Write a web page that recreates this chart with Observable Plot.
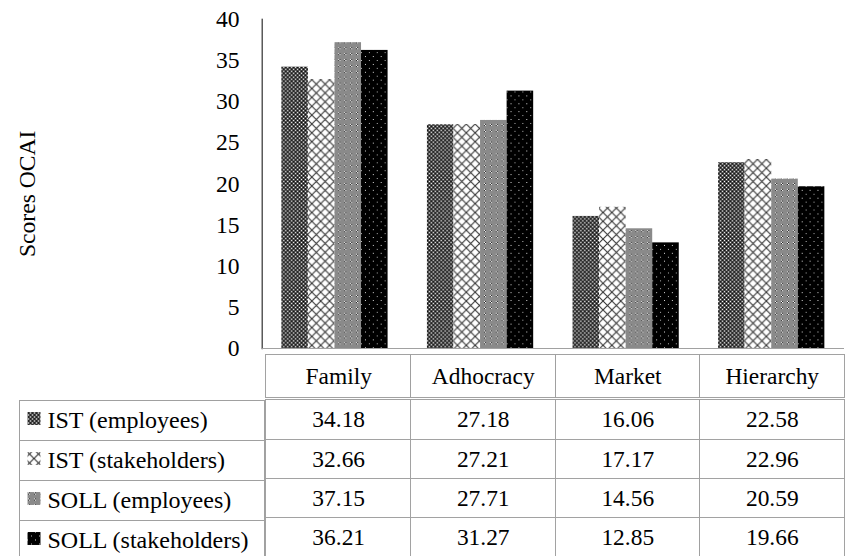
<!DOCTYPE html>
<html>
<head>
<meta charset="utf-8">
<script src="https://cdn.jsdelivr.net/npm/d3@7"></script>
<script src="https://cdn.jsdelivr.net/npm/@observablehq/plot@0.6"></script>
<style>
  html, body { margin: 0; padding: 0; background: #fff; overflow: hidden; }
  #wrap { position: relative; width: 846px; height: 556px; overflow: hidden; background: #fff; }
  .part { position: absolute; }
  .part svg { overflow: visible; display: block; }
  .part svg, .part svg text { font-family: "Liberation Serif", "Times New Roman", serif !important; }
</style>
</head>
<body>
<svg width="0" height="0" style="position:absolute">
  <defs>
    <pattern id="pIstEmp" patternUnits="userSpaceOnUse" width="4" height="4">
      <rect width="4" height="4" fill="#4a4a4a"/>
      <rect x="0" y="0" width="1" height="1" fill="#000"/>
      <rect x="2" y="2" width="1" height="1" fill="#000"/>
      <rect x="2" y="0" width="1" height="1" fill="#fff"/>
      <rect x="0" y="2" width="1" height="1" fill="#fff"/>
    </pattern>
    <pattern id="pIstStk" patternUnits="userSpaceOnUse" width="9" height="9">
      <rect width="9" height="9" fill="#fff"/>
      <path d="M0,0L9,9M9,0L0,9" stroke="#333" stroke-width="1.1" fill="none"/>
    </pattern>
    <pattern id="pSollEmp" patternUnits="userSpaceOnUse" width="6" height="6">
      <rect width="6" height="6" fill="#8a8a8a"/>
      <rect x="0" y="0" width="1" height="1" fill="#fff"/>
      <rect x="1" y="1" width="1" height="1" fill="#fff"/>
      <rect x="1" y="0" width="1" height="1" fill="#222"/>
      <rect x="0" y="1" width="1" height="1" fill="#222"/>
    </pattern>
    <pattern id="pSollStk" patternUnits="userSpaceOnUse" width="8" height="8">
      <rect width="8" height="8" fill="#000"/>
      <rect x="1" y="1" width="1" height="1" fill="#ddd"/>
      <rect x="5" y="5" width="1" height="1" fill="#bbb"/>
    </pattern>
  </defs>
</svg>
<div id="wrap"></div>
<script>
// ---- data ----
const categories = ["Family", "Adhocracy", "Market", "Hierarchy"];
const seriesNames = ["IST (employees)", "IST (stakeholders)", "SOLL (employees)", "SOLL (stakeholders)"];
const istEmployees = [34.18, 27.18, 16.06, 22.58];
const istStakeholders = [32.66, 27.21, 17.17, 22.96];
const sollEmployees = [37.15, 27.71, 14.56, 20.59];
const sollStakeholders = [36.21, 31.27, 12.85, 19.66];
const yTicks = [0, 5, 10, 15, 20, 25, 30, 35, 40];
const yLabel = "Scores OCAI";

// ---- styling ----
const patterns = ["url(#pIstEmp)", "url(#pIstStk)", "url(#pSollEmp)", "url(#pSollStk)"];
const gridColor = "#a0a0a0";
const font = "'Liberation Serif', 'Times New Roman', serif";
const baseStyle = {fontFamily: font, fontSize: "24px", color: "#000", background: "transparent", overflow: "visible"};

const seriesValues = [istEmployees, istStakeholders, sollEmployees, sollStakeholders];
const rows = seriesNames.flatMap((s, i) =>
  categories.map((c, j) => ({series: s, category: c, value: seriesValues[i][j]})));

const wrap = document.getElementById("wrap");
function place(node, left, top) {
  const d = document.createElement("div");
  d.className = "part";
  d.style.left = left + "px";
  d.style.top = top + "px";
  d.appendChild(node);
  wrap.appendChild(d);
}

// ---- bar chart ----
const bars = Plot.plot({
  width: 860, height: 354,
  marginLeft: 264, marginRight: 1, marginTop: 19, marginBottom: 0,
  style: baseStyle,
  fx: {domain: categories, padding: 0, axis: null},
  x: {domain: seriesNames, paddingInner: 0, paddingOuter: 0.705, axis: null},
  y: {domain: [0, 40], ticks: yTicks, tickSize: 0, tickPadding: 23, label: null, line: true},
  color: {domain: seriesNames, range: patterns},
  marks: [
    Plot.barY(rows, {fx: "category", x: "series", y: "value", fill: "series"}),
    Plot.ruleY([0], {stroke: gridColor, shapeRendering: "crispEdges"}),
    Plot.text([yLabel], {fx: () => categories[0], text: d => d, frameAnchor: "left", textAnchor: "middle", rotate: -90, dx: -239, dy: 10, fontSize: 24})
  ]
});
bars.querySelectorAll("[aria-label='y-axis line'], [aria-label='frame']").forEach(n => { n.setAttribute("stroke", gridColor); n.setAttribute("shape-rendering", "crispEdges"); });
place(bars, 0, 0);

// ---- category header row ----
const header = Plot.plot({
  width: 596, height: 45,
  marginLeft: 0, marginRight: 1, marginTop: 0, marginBottom: 0,
  style: baseStyle,
  x: {domain: categories, padding: 0, axis: null},
  marks: [
    Plot.cell(categories, {x: d => d, fill: "none", stroke: gridColor, shapeRendering: "crispEdges"}),
    Plot.text(categories, {x: d => d, text: d => d, frameAnchor: "middle", fontSize: 24})
  ]
});
place(header, 264, 354);

// ---- legend column of the data table ----
const legendCol = Plot.plot({
  width: 264, height: 162,
  marginLeft: 19, marginRight: 0, marginTop: 0, marginBottom: 0,
  style: baseStyle,
  y: {domain: seriesNames, padding: 0, axis: null},
  color: {domain: seriesNames, range: patterns},
  marks: [
    Plot.cell(seriesNames, {y: d => d, fill: "white", stroke: gridColor, shapeRendering: "crispEdges"}),
    Plot.dot(seriesNames, {y: d => d, fill: d => d, symbol: "square", r: 7.3, frameAnchor: "left", dx: 14.5, dy: -2}),
    Plot.text(seriesNames, {y: d => d, text: d => d, frameAnchor: "left", textAnchor: "start", dx: 28, fontSize: 24})
  ]
});
place(legendCol, 0, 399);

// ---- values of the data table ----
const valueTable = Plot.plot({
  width: 596, height: 162,
  marginLeft: 0, marginRight: 1, marginTop: 0, marginBottom: 0,
  style: baseStyle,
  x: {domain: categories, padding: 0, axis: null},
  y: {domain: seriesNames, padding: 0, axis: null},
  marks: [
    Plot.cell(rows, {x: "category", y: "series", fill: "white", stroke: gridColor, shapeRendering: "crispEdges"}),
    Plot.text(rows, {x: "category", y: "series", text: d => d.value.toFixed(2), fontSize: 24})
  ]
});
place(valueTable, 264, 399);
</script>
</body>
</html>
